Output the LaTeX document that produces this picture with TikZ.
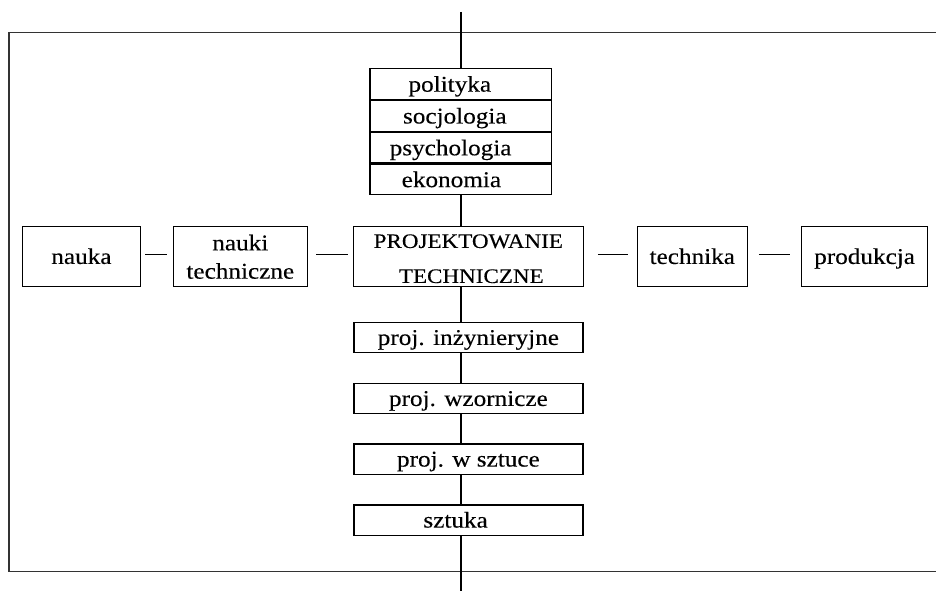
\documentclass[tikz,border=0pt]{standalone}
\usepackage{fontspec}
\setmainfont{Liberation Serif}[FakeStretch=1.12,FakeBold=0.25]
\begin{document}
\begin{tikzpicture}[x=1pt,y=-1pt,
  box/.style={draw=black, line width=1.2pt, fill=white, inner sep=0pt, anchor=north west},
  one/.style={font=\fontsize{22.5}{26}\selectfont, text height=20pt, text depth=5pt},
  stackrow/.style={box, one, minimum width=181.4pt, minimum height=30.6pt},
  lowbox/.style={box, one, minimum width=229pt, minimum height=30.3pt},
  midbox/.style={box, minimum height=60.3pt},
  axis/.style={line width=1.8pt},
  dashline/.style={line width=1.6pt},
  frame/.style={line width=1.5pt, draw=black!80}]
\useasboundingbox (0,0) rectangle (936,593);

% open frame (no right side)
\coordinate (ftr) at (936,32.7);
\coordinate (ftl) at (9,32.7);
\coordinate (fbl) at (9,571.7);
\coordinate (fbr) at (936,571.7);
\draw[frame] (ftr) -- (ftl) -- (fbl) -- (fbr);

% stacked disciplines above
\node[stackrow] (pol) at (369.3,68.3) {polityka\kern21.6pt};
\node[stackrow] (soc) at (pol.south west) {socjologia\kern11.6pt};
\node[stackrow] (psy) at (soc.south west) {psychologia\kern20pt};
\node[stackrow] (eko) at (psy.south west) {ekonomia\kern18.4pt};

% middle row
\node[midbox, one, minimum width=118.3pt] (nauka) at (21.7,225.7) {nauka};
\node[midbox, minimum width=134pt, align=center, font=\fontsize{22.5}{28.3}\selectfont] (nt) at (172.7,225.7) {\rule{0pt}{16.3pt}nauki\\techniczne};
\node[midbox, minimum width=230pt, align=center, font=\fontsize{20.6}{35}\selectfont] (proj) at (352.7,225.7) {\rule{0pt}{18.2pt}PROJEKTOWANIE\\\kern6pt TECHNICZNE};
\node[midbox, one, minimum width=110pt] (tech) at (636.7,225.7) {technika};
\node[midbox, one, minimum width=126pt] (prod) at (801,225.7) {produkcja};

% design kinds below
\node[lowbox] (inz) at (353.3,321.7) {proj. inżynieryjne};
\node[lowbox] (wz) at (353.3,382.7) {proj. wzornicze};
\node[lowbox] (wsz) at (353.3,443.3) {proj. w sztuce};
\node[lowbox] (szt) at (353.3,504.3) {sztuka\kern25.6pt};

% vertical axis
\coordinate (vtop) at (460.7,12);
\coordinate (vbot) at (460.7,591);
\draw[axis] (vtop) -- (vtop |- pol.north);
\draw[axis] (vtop |- eko.south) -- (vtop |- proj.north);
\draw[axis] (vtop |- proj.south) -- (vtop |- inz.north);
\draw[axis] (vtop |- inz.south) -- (vtop |- wz.north);
\draw[axis] (vtop |- wz.south) -- (vtop |- wsz.north);
\draw[axis] (vtop |- wsz.south) -- (vtop |- szt.north);
\draw[axis] (vtop |- szt.south) -- (vbot);

% short dashes between the boxes of the middle row
\draw[dashline] ([xshift=4pt,yshift=2pt]nauka.east) -- ([xshift=-6pt,yshift=2pt]nt.west);
\draw[dashline] ([xshift=8.3pt,yshift=2pt]nt.east) -- ([xshift=-4.7pt,yshift=2pt]proj.west);
\draw[dashline] ([xshift=14pt,yshift=2pt]proj.east) -- ([xshift=-8.7pt,yshift=2pt]tech.west);
\draw[dashline] ([xshift=11pt,yshift=2pt]tech.east) -- ([xshift=-11pt,yshift=2pt]prod.west);
\end{tikzpicture}
\end{document}
